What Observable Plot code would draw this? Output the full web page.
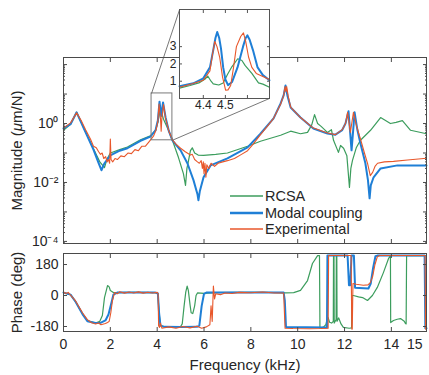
<!DOCTYPE html>
<html><head><meta charset="utf-8">
<script src="https://cdn.jsdelivr.net/npm/d3@7"></script>
<script src="https://cdn.jsdelivr.net/npm/@observablehq/plot@0.6"></script>
<style>
body{margin:0;background:#fff;}
#chart{position:relative;width:429px;height:375px;overflow:hidden;font-family:"Liberation Sans",Arial,sans-serif;color:#262626;}
#chart > svg{position:absolute;overflow:visible;}
.legend{position:absolute;left:230px;top:188px;font-size:14.5px;line-height:16.5px;}
.legend div{display:flex;align-items:center;height:16.5px;white-space:nowrap;}
.legend svg{display:block;margin-right:2px;}
</style></head>
<body><div id="chart"></div>
<script>
// ---------- data ----------
const seriesNames = ["RCSA", "Modal coupling", "Experimental"];
const seriesColors = ["#3c9d5d", "#1f7fd6", "#e8572b"];
const seriesWidths = [1.2, 2, 1.1];
const legendWidths = [1.5, 2.5, 1.5];

// magnitude, [frequency kHz, μm/N]
const rcsaMag = [[0,0.59],[0.3,0.95],[0.56,2.4],[0.9,0.62],[1.3,0.13],[1.55,0.05],[1.75,0.032],[1.85,0.06],[2.0,0.1],[2.4,0.13],[2.73,0.16],[3.29,0.28],[3.71,0.38],[3.93,0.6],[4.03,1.1],[4.14,3.2],[4.27,1.4],[4.48,0.6],[4.65,0.27],[4.91,0.07],[5.12,0.02],[5.21,0.008],[5.27,0.03],[5.34,0.056],[5.42,0.12],[5.5,0.15],[5.6,0.1],[5.75,0.085],[5.98,0.083],[6.5,0.09],[7.0,0.1],[7.86,0.17],[8.41,0.25],[9.27,0.4],[9.7,0.55],[10.12,0.45],[10.42,0.5],[10.6,0.9],[10.72,2.0],[10.85,1.0],[11.0,0.8],[11.27,0.5],[11.44,0.62],[11.53,0.27],[11.74,0.105],[11.83,0.18],[11.96,0.145],[12.1,0.08],[12.21,0.0068],[12.27,0.03],[12.34,0.056],[12.5,0.15],[12.68,0.27],[13.11,0.59],[13.54,1.6],[13.96,1.0],[14.2,1.1],[14.47,1.26],[14.82,0.59],[15.5,0.45]];
const modalMag = [[0,0.68],[0.3,0.95],[0.56,2.4],[0.9,0.6],[1.28,0.13],[1.5,0.045],[1.62,0.026],[1.75,0.045],[2.0,0.083],[2.4,0.12],[2.73,0.145],[3.29,0.26],[3.71,0.36],[3.93,0.59],[4.03,1.3],[4.10,5.5],[4.17,1.8],[4.25,5.2],[4.36,1.6],[4.5,0.55],[4.65,0.27],[5.0,0.123],[5.29,0.045],[5.55,0.012],[5.72,0.004],[5.76,0.0025],[5.82,0.005],[5.98,0.015],[6.28,0.038],[7.0,0.066],[7.86,0.155],[8.41,0.45],[8.97,1.5],[9.27,4.8],[9.4,9],[9.48,19.5],[9.56,9],[9.70,3.5],[10.12,1.6],[10.67,0.68],[11.27,0.46],[11.61,0.42],[11.9,0.6],[12.04,1.0],[12.17,2.6],[12.30,0.123],[12.43,2.4],[12.55,0.6],[12.68,0.21],[12.89,0.045],[13.0,0.012],[13.07,0.0029],[13.12,0.008],[13.24,0.015],[13.54,0.03],[14.26,0.038],[15.5,0.038]];
const expMag = [[0,0.74],[0.1,0.8],[0.3,1.05],[0.56,2.3],[0.75,1.3],[0.95,0.6],[1.15,0.3],[1.28,0.17],[1.4,0.15],[1.5,0.11],[1.58,0.09],[1.65,0.1],[1.72,0.065],[1.8,0.075],[1.86,0.05],[1.92,0.06],[1.97,0.045],[2.0,0.3],[2.03,0.06],[2.1,0.05],[2.2,0.065],[2.3,0.06],[2.45,0.08],[2.6,0.075],[2.75,0.1],[2.9,0.095],[3.05,0.13],[3.2,0.12],[3.35,0.17],[3.5,0.17],[3.65,0.24],[3.75,0.3],[3.85,0.38],[3.95,0.6],[4.03,1.2],[4.08,4.6],[4.14,1.5],[4.17,0.55],[4.2,1.5],[4.27,4.4],[4.36,1.5],[4.5,0.55],[4.65,0.28],[4.8,0.2],[5.0,0.145],[5.2,0.11],[5.42,0.085],[5.5,0.09],[5.6,0.06],[5.72,0.05],[5.8,0.045],[5.88,0.055],[5.93,0.03],[5.97,0.05],[6.0,0.02],[6.04,0.045],[6.08,0.015],[6.12,0.04],[6.2,0.03],[6.3,0.045],[6.45,0.035],[6.6,0.045],[6.8,0.05],[7.0,0.055],[7.3,0.065],[7.6,0.09],[7.86,0.12],[8.1,0.2],[8.41,0.42],[8.7,0.8],[8.97,1.5],[9.27,4.5],[9.4,9],[9.46,18],[9.5,12],[9.53,18],[9.6,8],[9.70,3.6],[10.12,1.6],[10.67,0.7],[11.27,0.48],[11.61,0.42],[11.9,0.62],[12.04,1.0],[12.13,2.4],[12.25,0.5],[12.38,2.4],[12.5,0.9],[12.68,0.3],[12.85,0.1],[12.98,0.045],[13.1,0.017],[13.2,0.022],[13.3,0.035],[13.41,0.045],[13.7,0.05],[14.09,0.052],[14.69,0.058],[15.5,0.066]];

// phase, [frequency kHz, deg]
const rcsaPhase = [[0,17],[0.3,5],[0.51,-35],[0.81,-105],[1.02,-145],[1.37,-160],[1.55,-150],[1.66,-116],[1.75,-12],[1.88,58],[1.95,50],[2.0,29],[2.13,17],[3.0,18],[3.93,17],[4.03,12],[4.08,-100],[4.14,-175],[4.3,-180],[5.0,-180],[5.07,-165],[5.15,-60],[5.22,20],[5.28,55],[5.33,30],[5.4,-50],[5.45,-100],[5.52,-105],[5.6,-60],[5.66,0],[5.72,15],[6.0,12],[6.5,17],[7.5,18],[8.5,19],[9.5,15],[9.83,17],[10.12,30],[10.42,87],[10.63,186],[10.85,232],[10.93,232],[10.95,-190],[11.1,-184],[11.2,-170],[11.25,-140],[11.3,-128],[11.36,-155],[11.45,-160],[11.52,-150],[11.53,232],[11.55,232],[11.56,-160],[11.64,-140],[11.65,232],[11.67,232],[11.68,-150],[11.75,-130],[11.85,-165],[11.95,-185],[12.2,-190],[12.3,-188],[12.32,0],[12.38,0],[12.6,-8],[12.77,-12],[12.98,-29],[13.19,0],[13.4,47],[13.66,133],[13.88,215],[13.96,232],[13.97,-157],[14.09,-145],[14.25,-138],[14.39,-134],[14.55,-150],[14.6,-163],[14.63,-165],[14.65,232],[15.5,232]];
const modalPhase = [[0,17],[0.3,5],[0.51,-35],[0.81,-108],[1.02,-149],[1.37,-160],[1.6,-158],[1.79,-145],[1.92,-110],[2.05,-40],[2.13,5],[2.3,17],[3.0,18],[3.93,17],[4.03,12],[4.08,-100],[4.14,-175],[4.3,-182],[5.0,-183],[5.7,-182],[5.8,-175],[5.9,-60],[6.0,10],[6.1,17],[8.0,18],[9.4,17],[9.45,-30],[9.5,-183],[11.25,-186],[11.27,232],[12.13,232],[12.19,60],[12.24,60],[12.3,232],[12.4,232],[12.45,45],[13.02,41],[13.12,70],[13.22,160],[13.32,228],[13.4,232],[15.42,232],[15.45,-190],[15.5,-190]];
const expPhase = [[0,20],[0.1,12],[0.2,18],[0.3,2],[0.51,-30],[0.81,-100],[1.02,-140],[1.2,-158],[1.37,-165],[1.5,-160],[1.6,-170],[1.79,-163],[1.88,-157],[1.95,-150],[2.02,-100],[2.09,-29],[2.18,17],[2.3,10],[2.4,22],[2.6,14],[2.8,20],[3.0,15],[3.2,21],[3.4,14],[3.6,19],[3.8,15],[4.0,18],[4.04,10],[4.06,-175],[4.1,-185],[4.14,-160],[4.2,-190],[4.5,-182],[4.8,-190],[5.1,-180],[5.4,-188],[5.7,-178],[5.9,-190],[6.1,-182],[6.25,-170],[6.3,-60],[6.35,-150],[6.4,55],[6.45,-20],[6.5,10],[6.7,5],[6.9,15],[7.2,12],[7.5,18],[8.0,16],[8.5,20],[9.0,15],[9.4,15],[9.46,-190],[9.8,-192],[10.5,-193],[11.0,-192],[11.3,-190],[11.32,232],[12.28,232],[12.31,-195],[12.33,-195],[12.36,70],[12.5,65],[12.8,60],[13.0,62],[13.1,75],[13.2,110],[13.3,180],[13.4,225],[13.5,232],[15.44,232],[15.46,-195],[15.5,-195]];

// inset, [frequency kHz, μm/N (linear)]
const rcsaInset = [[4.292,0.6],[4.34,0.75],[4.38,0.9],[4.41,1.15],[4.42,1.3],[4.435,1.0],[4.445,0.85],[4.47,0.78],[4.49,0.9],[4.51,1.4],[4.53,1.85],[4.556,2.3],[4.575,2.2],[4.59,1.9],[4.62,1.45],[4.65,0.9],[4.67,0.83],[4.70,0.65]];
const modalInset = [[4.292,0.71],[4.355,0.88],[4.40,1.17],[4.43,1.8],[4.445,2.8],[4.455,3.5],[4.463,3.85],[4.472,3.5],[4.48,2.9],[4.49,1.8],[4.5,1.1],[4.512,0.77],[4.53,0.95],[4.555,1.8],[4.58,3.0],[4.592,3.5],[4.60,3.65],[4.61,3.4],[4.625,2.8],[4.646,1.8],[4.67,1.35],[4.70,1.06]];
const expInset = [[4.292,0.65],[4.35,0.85],[4.40,1.06],[4.43,1.6],[4.442,2.6],[4.452,3.3],[4.462,3.0],[4.474,2.4],[4.487,1.25],[4.501,0.48],[4.512,0.5],[4.524,0.75],[4.537,1.8],[4.55,3.0],[4.57,3.6],[4.582,3.8],[4.592,3.3],[4.605,2.4],[4.62,1.8],[4.64,1.45],[4.70,1.1]];

// axes
const freqDomain = [0, 15.5];
const freqTicks = [0, 2, 4, 6, 8, 10, 12, 14];
const freqTickLabels = [0, 2, 4, 6, 8, 10, 12, 14, 15];
const magDomain = [8.5e-5, 174];
const magLabelTicks = [1e-4, 1e-2, 1];
const phaseDomain = [-209, 244];
const phaseTicks = [-180, 0, 180];
const insetFreqDomain = [4.292, 4.70];
const insetMagDomain = [0, 5.15];
const insetYTicks = [1, 2, 3];
const insetXTicks = [4.4, 4.5, 4.6];
const insetXLabels = ["4.4", "4.5", ""];
const magTitle = "Magnitude (\u03BCm/N)", phaseTitle = "Phase (deg)", freqTitle = "Frequency (kHz)";
// zoom box in the magnitude panel and the place of the inset (main-panel data units)
const zoomBox = [{x1: 3.76, x2: 4.65, y1: 0.27, y2: 10.5}];
const insetPlace = {x1: 4.953, x2: 8.796, yTop: 7190, yBottom: 7.08};

// ---------- build ----------
const FONT = '"Liberation Sans", Arial, sans-serif';
const rows = (pairs) => pairs.map(([f, v]) => ({f, v}));
const magSeries = [rcsaMag, modalMag, expMag].map(rows);
const phaseSeries = [rcsaPhase, modalPhase, expPhase].map(rows);
const insetSeries = [rcsaInset, modalInset, expInset].map(rows);

const sup = {"-": "\u207B", "0": "\u2070", "1": "\u00B9", "2": "\u00B2", "3": "\u00B3", "4": "\u2074"};
const pow10 = d => "10" + String(Math.round(Math.log10(d))).split("").map(c => sup[c]).join("");
const majorDecades = d3.range(-4, 3).map(e => Math.pow(10, e));
const minorDecades = [];
for (let e = -5; e <= 2; e++) for (let k = 2; k <= 9; k++) {
  const v = k * Math.pow(10, e);
  if (v > magDomain[0] && v < magDomain[1]) minorDecades.push(v);
}
const blank = () => "";
const lineMarks = (series) => series.map((s, i) =>
  Plot.line(s, {x: "f", y: "v", stroke: seriesColors[i], strokeWidth: seriesWidths[i], strokeLinejoin: "round"}));

const chart = document.getElementById("chart");
const frameColor = "#4a4a4a";
const noArrow = {labelArrow: "none"};

const topPlot = Plot.plot({
  width: 429, height: 248, marginTop: 57, marginBottom: 5, marginLeft: 63, marginRight: 3,
  style: {fontFamily: FONT, fontSize: "14px", color: "#262626", background: "transparent", overflow: "visible"},
  x: {domain: freqDomain, label: null},
  y: {type: "log", domain: magDomain, label: null},
  marks: [
    ...lineMarks(magSeries),
    Plot.rect(zoomBox, {x1: "x1", x2: "x2", y1: "y1", y2: "y2", fill: "none", stroke: "#7a7a7a", strokeWidth: 1}),
    Plot.link([{x1: zoomBox[0].x1, y1: zoomBox[0].y2, x2: insetPlace.x1, y2: insetPlace.yTop},
               {x1: zoomBox[0].x2, y1: zoomBox[0].y1, x2: insetPlace.x2, y2: insetPlace.yBottom}],
      {x1: "x1", y1: "y1", x2: "x2", y2: "y2", stroke: "#555", strokeWidth: 0.8}),
    Plot.frame({stroke: frameColor}),
    Plot.axisY({anchor: "left", ticks: magLabelTicks, tickSize: 0, tickPadding: 5, tickFormat: pow10,
      label: magTitle, labelAnchor: "center", labelOffset: 52, ...noArrow}),
    Plot.axisY({anchor: "left", ticks: majorDecades, tickSize: -4, tickFormat: blank, label: null, stroke: frameColor}),
    Plot.axisY({anchor: "left", ticks: minorDecades, tickSize: -2, tickFormat: blank, label: null, stroke: frameColor}),
    Plot.axisY({anchor: "right", ticks: majorDecades, tickSize: -4, tickFormat: blank, label: null, stroke: frameColor}),
    Plot.axisY({anchor: "right", ticks: minorDecades, tickSize: -2, tickFormat: blank, label: null, stroke: frameColor}),
    Plot.axisX({anchor: "bottom", ticks: freqTicks, tickSize: -4, tickFormat: blank, label: null, stroke: frameColor}),
    Plot.axisX({anchor: "top", ticks: freqTicks, tickSize: -4, tickFormat: blank, label: null, stroke: frameColor})
  ]
});
topPlot.style.left = "0px"; topPlot.style.top = "0px";
chart.appendChild(topPlot);

const bottomPlot = Plot.plot({
  width: 429, height: 127, marginTop: 5, marginBottom: 44, marginLeft: 63, marginRight: 3,
  style: {fontFamily: FONT, fontSize: "14px", color: "#262626", background: "transparent", overflow: "visible"},
  x: {domain: freqDomain, label: null},
  y: {domain: phaseDomain, label: null},
  marks: [
    ...lineMarks(phaseSeries),
    Plot.frame({stroke: frameColor}),
    Plot.axisY({anchor: "left", ticks: phaseTicks, tickSize: 0, tickPadding: 5, tickFormat: d => String(d),
      label: phaseTitle, labelAnchor: "center", labelOffset: 52, ...noArrow}),
    Plot.axisY({anchor: "left", ticks: phaseTicks, tickSize: -4, tickFormat: blank, label: null, stroke: frameColor}),
    Plot.axisY({anchor: "right", ticks: phaseTicks, tickSize: -4, tickFormat: blank, label: null, stroke: frameColor}),
    Plot.axisX({anchor: "bottom", ticks: freqTickLabels, tickSize: 0, tickPadding: 8, tickFormat: d => String(d),
      label: freqTitle, labelAnchor: "center", labelOffset: 38, ...noArrow}),
    Plot.axisX({anchor: "bottom", ticks: freqTicks, tickSize: -4, tickFormat: blank, label: null, stroke: frameColor}),
    Plot.axisX({anchor: "top", ticks: freqTicks, tickSize: -4, tickFormat: blank, label: null, stroke: frameColor})
  ]
});
bottomPlot.style.left = "0px"; bottomPlot.style.top = "248px";
chart.appendChild(bottomPlot);

// inset placed with the magnitude panel's scales
const xs = topPlot.scale("x"), ys = topPlot.scale("y");
const ix1 = xs.apply(insetPlace.x1), ix2 = xs.apply(insetPlace.x2);
const iy1 = ys.apply(insetPlace.yTop), iy2 = ys.apply(insetPlace.yBottom);
const iml = 16, imr = 2, imt = 2, imb = 18;
const insetPlot = Plot.plot({
  width: Math.round(ix2 - ix1) + iml + imr, height: Math.round(iy2 - iy1) + imt + imb,
  marginLeft: iml, marginRight: imr, marginTop: imt, marginBottom: imb,
  style: {fontFamily: FONT, fontSize: "12px", color: "#262626", background: "transparent", overflow: "visible"},
  x: {domain: insetFreqDomain, label: null},
  y: {domain: insetMagDomain, label: null},
  marks: [
    Plot.frame({fill: "white"}),
    ...lineMarks(insetSeries),
    Plot.frame({stroke: "#555"}),
    Plot.axisY({anchor: "left", ticks: insetYTicks, tickSize: 0, tickPadding: 3, tickFormat: d => String(d), label: null}),
    Plot.axisY({anchor: "left", ticks: insetYTicks, tickSize: -3, tickFormat: blank, label: null, stroke: "#555"}),
    Plot.axisY({anchor: "right", ticks: insetYTicks, tickSize: -3, tickFormat: blank, label: null, stroke: "#555"}),
    Plot.axisX({anchor: "bottom", ticks: insetXTicks, tickSize: 0, tickPadding: 2, tickFormat: (d, i) => insetXLabels[i], label: null}),
    Plot.axisX({anchor: "bottom", ticks: insetXTicks, tickSize: -3, tickFormat: blank, label: null, stroke: "#555"}),
    Plot.axisX({anchor: "top", ticks: insetXTicks, tickSize: -3, tickFormat: blank, label: null, stroke: "#555"})
  ]
});
insetPlot.style.left = (ix1 - iml) + "px"; insetPlot.style.top = (iy1 - imt) + "px";
chart.appendChild(insetPlot);

// strip any label arrows, italic μ in the magnitude title, title sizes
const arrows = /\s*[\u2191\u2193\u2190\u2192]\s*/g;
d3.select(chart).selectAll("text").each(function() {
  if (arrows.test(this.textContent)) this.textContent = this.textContent.replace(arrows, "").trim();
  arrows.lastIndex = 0;
});
d3.select(topPlot).selectAll("text").filter(function() { return this.textContent === magTitle; })
  .each(function() {
    const t = d3.select(this); t.text(null).attr("font-size", 15);
    t.append("tspan").text("Magnitude (");
    t.append("tspan").attr("font-style", "italic").text("\u03BC");
    t.append("tspan").text("m/N)");
  });
d3.select(bottomPlot).selectAll("text").filter(function() { return this.textContent === phaseTitle || this.textContent === freqTitle; })
  .attr("font-size", 15);

// legend (line swatch + name)
const legend = d3.select(chart).append("div").attr("class", "legend");
seriesNames.forEach((name, i) => {
  const row = legend.append("div");
  const sw = row.append("svg").attr("width", 33).attr("height", 6);
  sw.append("line").attr("x1", 0).attr("x2", 33).attr("y1", 3).attr("y2", 3)
    .attr("stroke", seriesColors[i]).attr("stroke-width", legendWidths[i]);
  row.append("span").text(name);
});
</script></body></html>
